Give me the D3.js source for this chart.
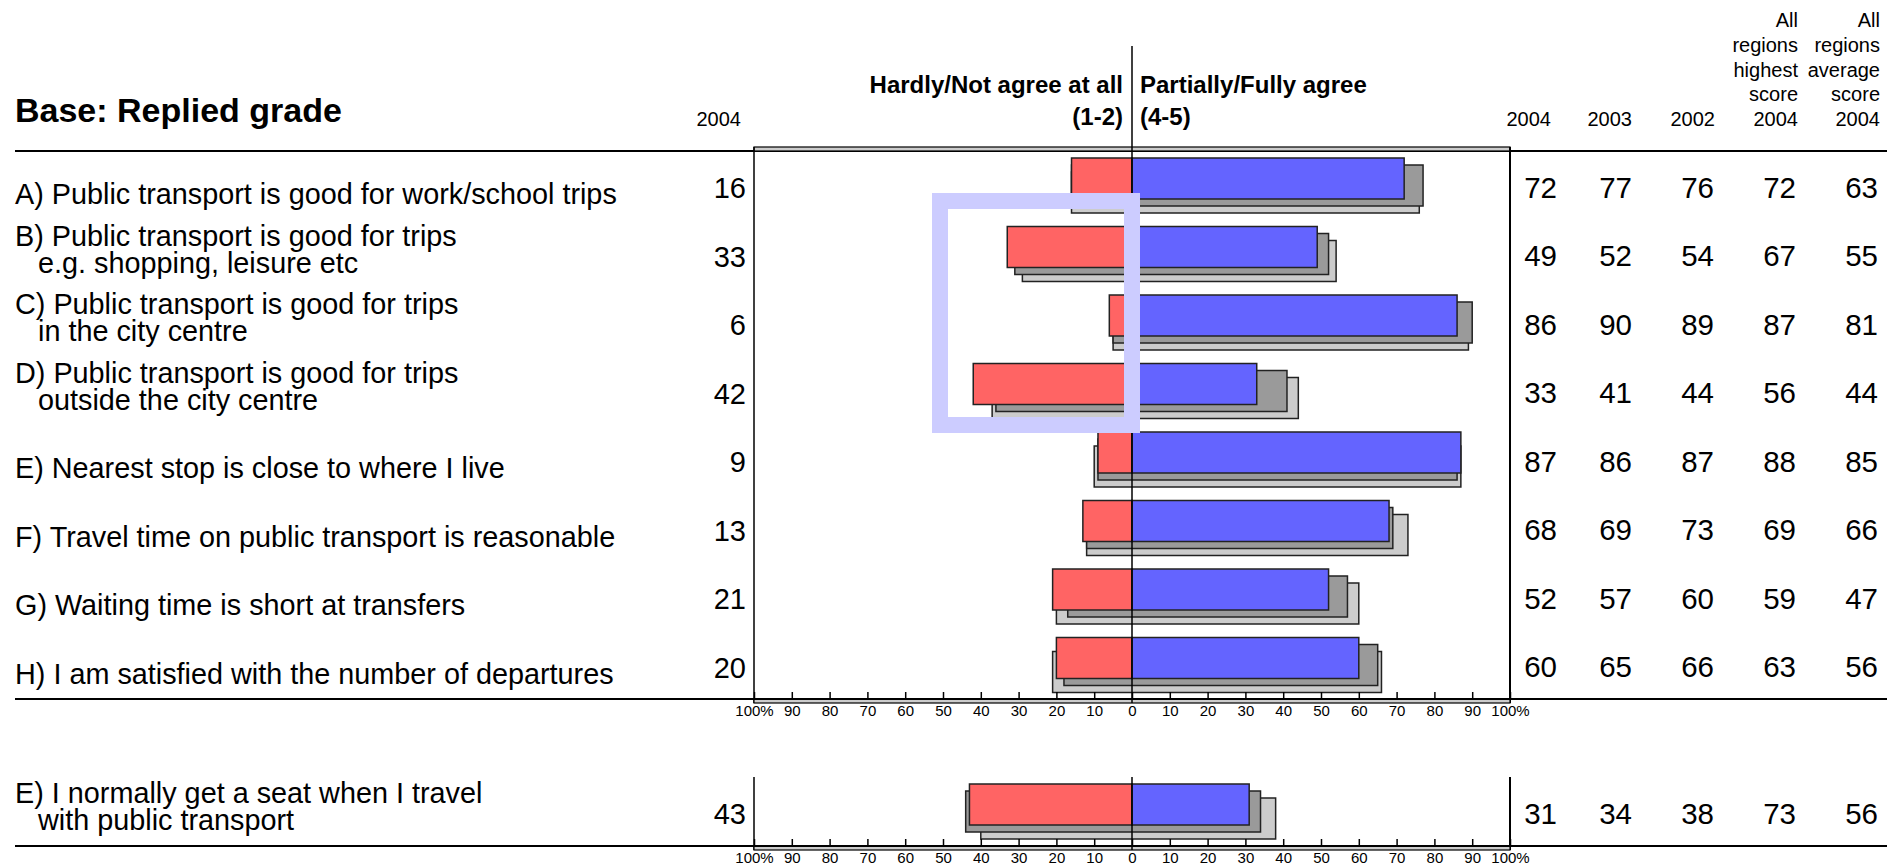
<!DOCTYPE html>
<html>
<head>
<meta charset="utf-8">
<script src="https://cdn.jsdelivr.net/npm/d3@7"></script>
<style>
  body { margin: 0; background: #fff; }
  svg { display: block; font-family: "Liberation Sans", Arial, sans-serif; }
  .narrow { font-family: "Liberation Sans Narrow", "Liberation Sans", Arial, sans-serif; }
</style>
</head>
<body>
<script>
// statements (first line, optional indented second line)
const statements = [
  ["A) Public transport is good for work/school trips"],
  ["B) Public transport is good for trips", "e.g. shopping, leisure etc"],
  ["C) Public transport is good for trips", "in the city centre"],
  ["D) Public transport is good for trips", "outside the city centre"],
  ["E) Nearest stop is close to where I live"],
  ["F) Travel time on public transport is reasonable"],
  ["G) Waiting time is short at transfers"],
  ["H) I am satisfied with the number of departures"]
];
const disagree2004 = [16, 33, 6, 42, 9, 13, 21, 20];
const agree2004    = [72, 49, 86, 33, 87, 68, 52, 60];
const disagree2003 = [16, 31, 5, 36, 9, 12, 17, 18];
const agree2003    = [77, 52, 90, 41, 86, 69, 57, 65];
const disagree2002 = [16, 29, 5, 37, 10, 12, 20, 21];
const agree2002    = [76, 54, 89, 44, 87, 73, 60, 66];
const highest2004  = [72, 67, 87, 56, 88, 69, 59, 63];
const average2004  = [63, 55, 81, 44, 85, 66, 47, 56];

// separate question below the main block
const seatStatement = [["E) I normally get a seat when I travel", "with public transport"]];
const seatDisagree2004 = [43];
const seatAgree2004 = [31];
const seatDisagree2003 = [44];
const seatAgree2003 = [34];
const seatDisagree2002 = [40];
const seatAgree2002 = [38];
const seatHighest2004 = [73];
const seatAverage2004 = [56];

const tickValues = d3.range(-100, 101, 10);
const colHeaders = [["2004"], ["2003"], ["2002"],
  ["All", "regions", "highest", "score", "2004"],
  ["All", "regions", "average", "score", "2004"]];

const W = 1899, H = 864;
const svg = d3.select("body").append("svg")
  .attr("width", W)
  .attr("height", H);

const x = d3.scaleLinear([-100, 100], [754, 1510]);
const colRight = [1557, 1632, 1714, 1796, 1878];
const headRight = [1551, 1632, 1715, 1798, 1880];
const barH = 41, shift = 7;

// header
svg.append("text")
  .attr("x", 15).attr("y", 122)
  .attr("font-size", 34).attr("font-weight", "bold")
  .text("Base: Replied grade");

svg.append("text").attr("class", "narrow")
  .attr("x", 741).attr("y", 126)
  .attr("text-anchor", "end").attr("font-size", 20)
  .text("2004");

const hdr = svg.append("g").attr("font-size", 24).attr("font-weight", "bold");
hdr.append("text").attr("x", 1123).attr("y", 93).attr("text-anchor", "end").text("Hardly/Not agree at all");
hdr.append("text").attr("x", 1123).attr("y", 125).attr("text-anchor", "end").text("(1-2)");
hdr.append("text").attr("x", 1140).attr("y", 93).text("Partially/Fully agree");
hdr.append("text").attr("x", 1140).attr("y", 125).text("(4-5)");

colHeaders.forEach((lines, c) => {
  lines.forEach((t, k) => {
    svg.append("text").attr("class", "narrow")
      .attr("x", headRight[c])
      .attr("y", 126 - (lines.length - 1 - k) * 24.75)
      .attr("text-anchor", "end")
      .attr("font-size", 20)
      .text(t);
  });
});

svg.append("line")
  .attr("x1", 15).attr("x2", 1887).attr("y1", 151).attr("y2", 151)
  .attr("stroke", "#000").attr("stroke-width", 2);

function drawPanel(labels, dis04, agr04, dis03, agr03, dis02, agr02, high, avg, top, bottom, withTopBand) {
  const y = d3.scaleBand(d3.range(labels.length), [top, bottom]);
  const g = svg.append("g");

  // frame
  if (withTopBand) {
    g.append("rect")
      .attr("x", x(-100)).attr("y", top - 4)
      .attr("width", x(100) - x(-100)).attr("height", 4)
      .attr("fill", "#cccccc").attr("stroke", "#000").attr("stroke-width", 1.2);
  }
  g.append("line")
    .attr("x1", x(-100)).attr("x2", x(-100))
    .attr("y1", withTopBand ? top - 4 : top).attr("y2", bottom + 4)
    .attr("stroke", "#000").attr("stroke-width", 1.5);
  g.append("line")
    .attr("x1", x(100)).attr("x2", x(100))
    .attr("y1", withTopBand ? top - 4 : top).attr("y2", bottom + 4)
    .attr("stroke", "#000").attr("stroke-width", 2);

  const idx = d3.range(labels.length);

  // 2002 bars (back)
  g.selectAll(".b02").data(idx).enter().append("rect")
    .attr("x", i => x(-dis02[i]))
    .attr("y", i => y(i) + shift + 2 * shift)
    .attr("width", i => x(agr02[i]) - x(-dis02[i]))
    .attr("height", barH)
    .attr("fill", "#cccccc").attr("stroke", "#222").attr("stroke-width", 1.5);

  // 2003 bars
  g.selectAll(".b03").data(idx).enter().append("rect")
    .attr("x", i => x(-dis03[i]))
    .attr("y", i => y(i) + shift + shift)
    .attr("width", i => x(agr03[i]) - x(-dis03[i]))
    .attr("height", barH)
    .attr("fill", "#9a9a9a").attr("stroke", "#222").attr("stroke-width", 1.5);

  // 2004 bars
  g.selectAll(".dis").data(idx).enter().append("rect")
    .attr("x", i => x(-dis04[i]))
    .attr("y", i => y(i) + shift)
    .attr("width", i => x(0) - x(-dis04[i]))
    .attr("height", barH)
    .attr("fill", "#ff6464").attr("stroke", "#222").attr("stroke-width", 1.5);
  g.selectAll(".agr").data(idx).enter().append("rect")
    .attr("x", x(0))
    .attr("y", i => y(i) + shift)
    .attr("width", i => x(agr04[i]) - x(0))
    .attr("height", barH)
    .attr("fill", "#6464ff").attr("stroke", "#222").attr("stroke-width", 1.5);

  // axis with ticks pointing up
  const axis = g.append("g")
    .attr("transform", `translate(0,${bottom})`)
    .call(d3.axisBottom(x).tickValues(tickValues).tickSize(-7).tickPadding(6)
      .tickFormat(d => Math.abs(d) === 100 ? "100%" : Math.abs(d)));
  axis.select(".domain").remove();
  axis.selectAll("line").attr("stroke", "#000").attr("stroke-width", 1.5);
  axis.selectAll("text").attr("class", "narrow").attr("font-size", 15).attr("fill", "#000");

  g.append("rect")
    .attr("x", x(-100)).attr("y", bottom)
    .attr("width", x(100) - x(-100)).attr("height", 4)
    .attr("fill", "#cccccc").attr("stroke", "#000").attr("stroke-width", 1.2);
  g.append("line")
    .attr("x1", 15).attr("x2", 1887).attr("y1", bottom).attr("y2", bottom)
    .attr("stroke", "#000").attr("stroke-width", 2);

  // centre line
  g.append("line")
    .attr("x1", x(0)).attr("x2", x(0))
    .attr("y1", withTopBand ? 46 : top).attr("y2", bottom + 4)
    .attr("stroke", "#000").attr("stroke-width", 1.5);

  // statement labels and figures
  idx.forEach(i => {
    const lines = labels[i];
    lines.forEach((t, k) => {
      g.append("text")
        .attr("x", k === 0 ? 15 : 38)
        .attr("y", y(i) + shift + 46 - (lines.length - 1 - k) * 27)
        .attr("font-size", 28.8)
        .text(t);
    });
    g.append("text")
      .attr("x", 746)
      .attr("y", y(i) + shift + 40)
      .attr("text-anchor", "end")
      .attr("font-size", 29)
      .text(dis04[i]);
    [agr04[i], agr03[i], agr02[i], high[i], avg[i]].forEach((v, c) => {
      g.append("text")
        .attr("x", colRight[c])
        .attr("y", y(i) + shift + 39.5)
        .attr("text-anchor", "end")
        .attr("font-size", 29.5)
        .text(v);
    });
  });
}

drawPanel(statements, disagree2004, agree2004, disagree2003, agree2003, disagree2002, agree2002,
  highest2004, average2004, 151, 699, true);
drawPanel(seatStatement, seatDisagree2004, seatAgree2004, seatDisagree2003, seatAgree2003,
  seatDisagree2002, seatAgree2002, seatHighest2004, seatAverage2004, 777, 846, false);

// highlight frame drawn over rows B-D
svg.append("rect")
  .attr("x", 940).attr("y", 201)
  .attr("width", 192).attr("height", 224)
  .attr("fill", "none")
  .attr("stroke", "#ccccff")
  .attr("stroke-width", 16);
</script>
</body>
</html>
